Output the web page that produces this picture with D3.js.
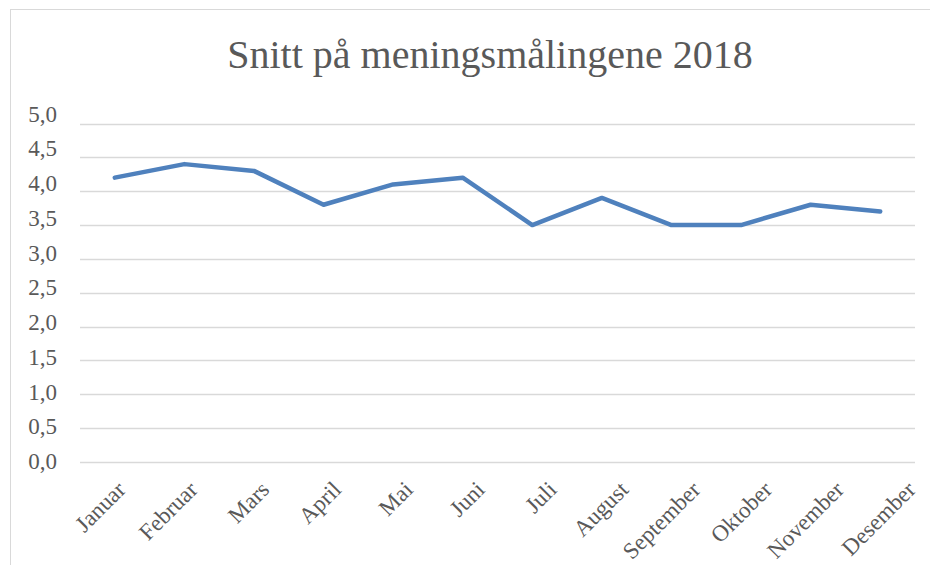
<!DOCTYPE html>
<html><head><meta charset="utf-8">
<script src="https://cdn.jsdelivr.net/npm/d3@7"></script>
<style>body{margin:0;background:#fff}svg{display:block}</style>
</head><body>
<svg id="c" width="930" height="565"></svg>
<script>
const months = ["Januar","Februar","Mars","April","Mai","Juni","Juli","August","September","Oktober","November","Desember"];
const values = [4.2,4.4,4.3,3.8,4.1,4.2,3.5,3.9,3.5,3.5,3.8,3.7];
const yTicks = [0,0.5,1,1.5,2,2.5,3,3.5,4,4.5,5];
const title = "Snitt på meningsmålingene 2018";

const svg = d3.select("#c");
const font = "'Liberation Serif','DejaVu Serif',serif";
const textCol = "#595959";

// outer border
svg.append("rect").attr("x",10.5).attr("y",9.5).attr("width",940).attr("height",600)
  .attr("fill","none").attr("stroke","#d9d9d9").attr("stroke-width",1);

const x = d3.scaleBand().domain(months).range([80,915]);
const y = d3.scaleLinear().domain([0,5]).range([462,123.5]);
// label placement scales (labels in the reference are spread slightly wider than the plot grid)
const xLab = d3.scalePoint().domain(months).range([127,917]);
const yLab = d3.scaleLinear().domain([0,5]).range([461.5,114]);

svg.append("text").attr("x",490).attr("y",68).attr("text-anchor","middle")
  .attr("font-family",font).attr("font-size",40).attr("fill",textCol).text(title);

// gridlines
svg.append("g").selectAll("line").data(yTicks).join("line")
  .attr("x1",80).attr("x2",915)
  .attr("y1",d=>Math.round(y(d))+0.5).attr("y2",d=>Math.round(y(d))+0.5)
  .attr("stroke","#d9d9d9").attr("stroke-width",1.5);

// y labels
svg.append("g").selectAll("text").data(yTicks).join("text")
  .attr("x",57).attr("y",d=>yLab(d)).attr("dy","0.33em").attr("text-anchor","end")
  .attr("font-family",font).attr("font-size",23).attr("fill",textCol)
  .text(d=>d3.format(".1f")(d).replace(".",","));

// x labels
svg.append("g").selectAll("text").data(months).join("text")
  .attr("transform",d=>`translate(${xLab(d)},${491}) rotate(-45)`)
  .attr("text-anchor","end")
  .attr("font-family",font).attr("font-size",23).attr("fill",textCol)
  .text(d=>d);

// line
const line = d3.line().x((d,i)=>x(months[i])+x.bandwidth()/2).y(d=>y(d));
svg.append("path").datum(values).attr("d",line)
  .attr("fill","none").attr("stroke","#4f81bd").attr("stroke-width",4.5)
  .attr("stroke-linejoin","round").attr("stroke-linecap","round");
</script>
</body></html>
